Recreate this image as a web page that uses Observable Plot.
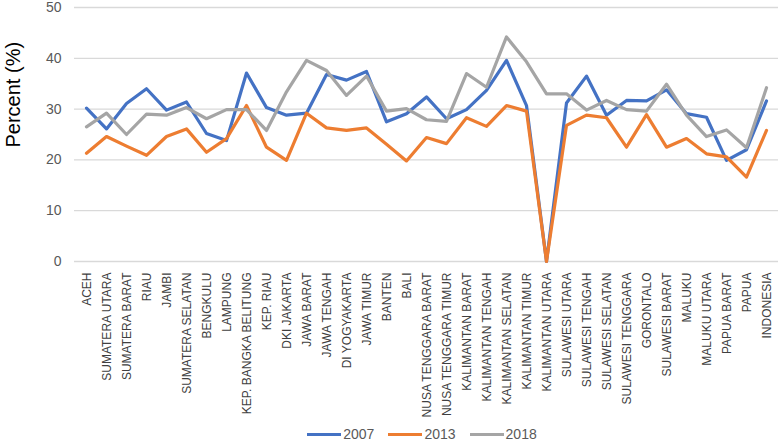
<!DOCTYPE html>
<html>
<head>
<meta charset="utf-8">
<script src="https://cdn.jsdelivr.net/npm/d3@7"></script>
<script src="https://cdn.jsdelivr.net/npm/@observablehq/plot@0.6"></script>
<style>
  html, body { margin: 0; padding: 0; background: #fff; }
  #chart svg { display: block; }
  #legend { display: flex; justify-content: center; align-items: center; height: 12px; padding-left: 61px;
    font-family: "Liberation Sans", Arial, sans-serif; font-size: 14px; color: #595959; }
  .item { display: flex; align-items: center; margin: 0 7px; }
  .swatch { display: inline-block; width: 34px; height: 3px; margin-right: 2px; }
</style>
</head>
<body>
<div id="chart"></div>
<div id="legend"></div>
<script>
const provinces = ["ACEH","SUMATERA UTARA","SUMATERA BARAT","RIAU","JAMBI","SUMATERA SELATAN","BENGKULU","LAMPUNG","KEP. BANGKA BELITUNG","KEP. RIAU","DKI JAKARTA","JAWA BARAT","JAWA TENGAH","DI YOGYAKARTA","JAWA TIMUR","BANTEN","BALI","NUSA TENGGARA BARAT","NUSA TENGGARA TIMUR","KALIMANTAN BARAT","KALIMANTAN TENGAH","KALIMANTAN SELATAN","KALIMANTAN TIMUR","KALIMANTAN UTARA","SULAWESI UTARA","SULAWESI TENGAH","SULAWESI SELATAN","SULAWESI TENGGARA","GORONTALO","SULAWESI BARAT","MALUKU","MALUKU UTARA","PAPUA BARAT","PAPUA","INDONESIA"];
const years = ["2007", "2013", "2018"];
const v2007 = [30.2,26.1,31.1,34.0,29.8,31.4,25.2,23.8,37.1,30.3,28.8,29.2,36.8,35.7,37.4,27.5,29.1,32.4,28.1,29.9,33.7,39.6,30.7,0,31.2,36.5,28.8,31.7,31.6,33.8,29.1,28.4,19.9,22.0,31.6];
const v2013 = [21.3,24.6,22.7,20.9,24.6,26.1,21.5,24.2,30.7,22.5,19.9,29.2,26.3,25.8,26.3,23.1,19.8,24.4,23.2,28.3,26.6,30.7,29.6,0,26.8,28.8,28.3,22.5,28.9,22.5,24.2,21.2,20.6,16.6,25.8];
const v2018 = [26.5,29.2,25.0,29.0,28.8,30.3,28.1,29.9,29.9,25.8,33.4,39.6,37.6,32.7,36.5,29.6,30.1,27.9,27.6,37.0,34.3,44.2,39.3,33.0,33.0,29.8,31.7,29.9,29.6,34.9,28.8,24.6,25.9,22.4,34.2];
const colors = ["#4472C4", "#ED7D31", "#A5A5A5"];
const yTicks = [0, 10, 20, 30, 40, 50];

const series = [v2007, v2013, v2018];
const data = [];
years.forEach((yr, k) => provinces.forEach((p, i) => data.push({province: p, year: yr, value: series[k][i]})));

const font = "'Liberation Sans', Arial, sans-serif";
const chart = Plot.plot({
  width: 783,
  height: 428,
  marginLeft: 74,
  marginRight: 5,
  marginTop: 7,
  marginBottom: 167,
  style: {fontFamily: font, background: "#fff"},
  x: {type: "band", domain: provinces, padding: 0, axis: null},
  y: {domain: [0, 50], axis: null},
  color: {domain: years, range: colors},
  marks: [
    Plot.gridY(yTicks, {stroke: "#d9d9d9", strokeOpacity: 1, strokeWidth: 1.3}),
    Plot.axisY(yTicks, {tickSize: 0, tickPadding: 13, fontSize: 14, fill: "#595959", label: null}),
    Plot.text(provinces, {x: d => d, frameAnchor: "bottom", dy: 11, dx: 1, rotate: -90, textAnchor: "end", lineAnchor: "middle", fontSize: 12, fill: "#404040"}),
    Plot.text(["Percent (%)"], {frameAnchor: "left", dx: -61, dy: 13, rotate: -90, fontSize: 20, fill: "#000"}),
    Plot.line(data, {x: "province", y: "value", z: "year", stroke: "year", strokeWidth: 3.2, strokeLinejoin: "round"})
  ]
});
document.getElementById("chart").appendChild(chart);

const legend = document.getElementById("legend");
years.forEach((yr, k) => {
  const item = document.createElement("span");
  item.className = "item";
  const sw = document.createElement("span");
  sw.className = "swatch";
  sw.style.background = colors[k];
  item.appendChild(sw);
  item.appendChild(document.createTextNode(yr));
  legend.appendChild(item);
});
</script>
</body>
</html>
